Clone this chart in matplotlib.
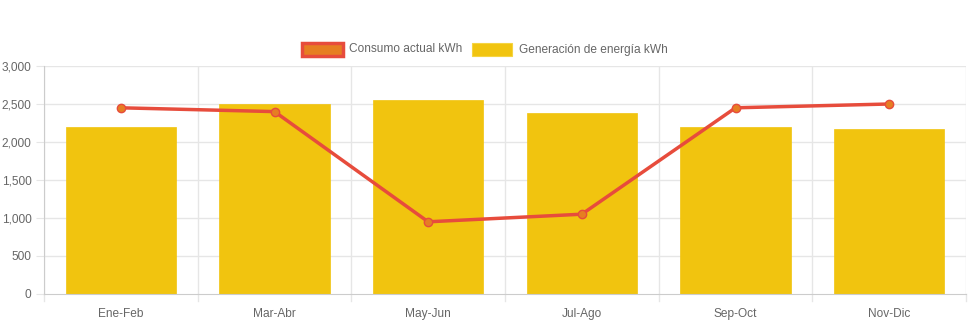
import matplotlib
matplotlib.use("Agg")
import matplotlib.pyplot as plt
from matplotlib.patches import Rectangle
import numpy as np

categories = ["Ene-Feb", "Mar-Abr", "May-Jun", "Jul-Ago", "Sep-Oct", "Nov-Dic"]
generacion = [2200, 2500, 2550, 2380, 2200, 2170]
consumo = [2450, 2400, 950, 1050, 2450, 2500]
yticks = [0, 500, 1000, 1500, 2000, 2500, 3000]
series_names = ["Consumo actual kWh", "Generación de energía kWh"]

plt.rcParams['font.family'] = ['Liberation Sans', 'DejaVu Sans']
W, H = 971, 323
fig = plt.figure(figsize=(W / 100, H / 100), dpi=100)
L, R, B, T = 44, 966, 294, 66
ax = fig.add_axes([L / W, (H - B) / H, (R - L) / W, (B - T) / H])

x = np.arange(len(categories))
ax.bar(x, generacion, width=0.72, color="#f1c40f", edgecolor="#f1c40f", linewidth=0.5, zorder=2)
ax.plot(x, consumo, color="#e74c3c", linewidth=2.5, zorder=3,
        marker="o", markersize=6, markerfacecolor="#e67e22", markeredgecolor="#e74c3c", markeredgewidth=1)

ax.set_xlim(-0.5, len(categories) - 0.5)
ax.set_ylim(0, 3000)
ax.set_yticks(yticks)
ax.set_yticklabels([f"{v:,}" for v in yticks])
ax.set_xticks(x)
ax.set_xticklabels(categories)

grid_c = "#e6e6e6"
for yv in yticks[1:]:
    ax.axhline(yv, color=grid_c, linewidth=1, zorder=0)
for b in np.arange(-0.5, len(categories), 1.0):
    ax.axvline(b, color=grid_c, linewidth=1, zorder=0)
    ax.plot([b, b], [0, -90], color=grid_c, linewidth=1, clip_on=False, zorder=0)

for s in ["top", "right"]:
    ax.spines[s].set_visible(False)
ax.spines["left"].set_color("#cccccc")
ax.spines["bottom"].set_color("#cccccc")
ax.tick_params(axis="y", length=6, color=grid_c, labelsize=8.6, labelcolor="#666666", pad=3)
ax.tick_params(axis="x", length=0, labelsize=8.6, labelcolor="#666666", pad=10)

# legend
def fx(px): return px / W
def fy(py): return (H - py) / H
fig.patches.append(Rectangle((fx(302), fy(56)), 41 / W, 13 / H, transform=fig.transFigure,
                             facecolor="#e67e22", edgecolor="#e74c3c", linewidth=2.5))
fig.text(fx(349), fy(49.5), series_names[0], fontsize=8.6, color="#666666", va="center", ha="left")
fig.patches.append(Rectangle((fx(472), fy(56)), 40 / W, 13 / H, transform=fig.transFigure,
                             facecolor="#f1c40f", edgecolor="#f5d442", linewidth=0.8))
fig.text(fx(519), fy(49.5), series_names[1], fontsize=8.6, color="#666666", va="center", ha="left")

fig.savefig("out.png", dpi=100)
